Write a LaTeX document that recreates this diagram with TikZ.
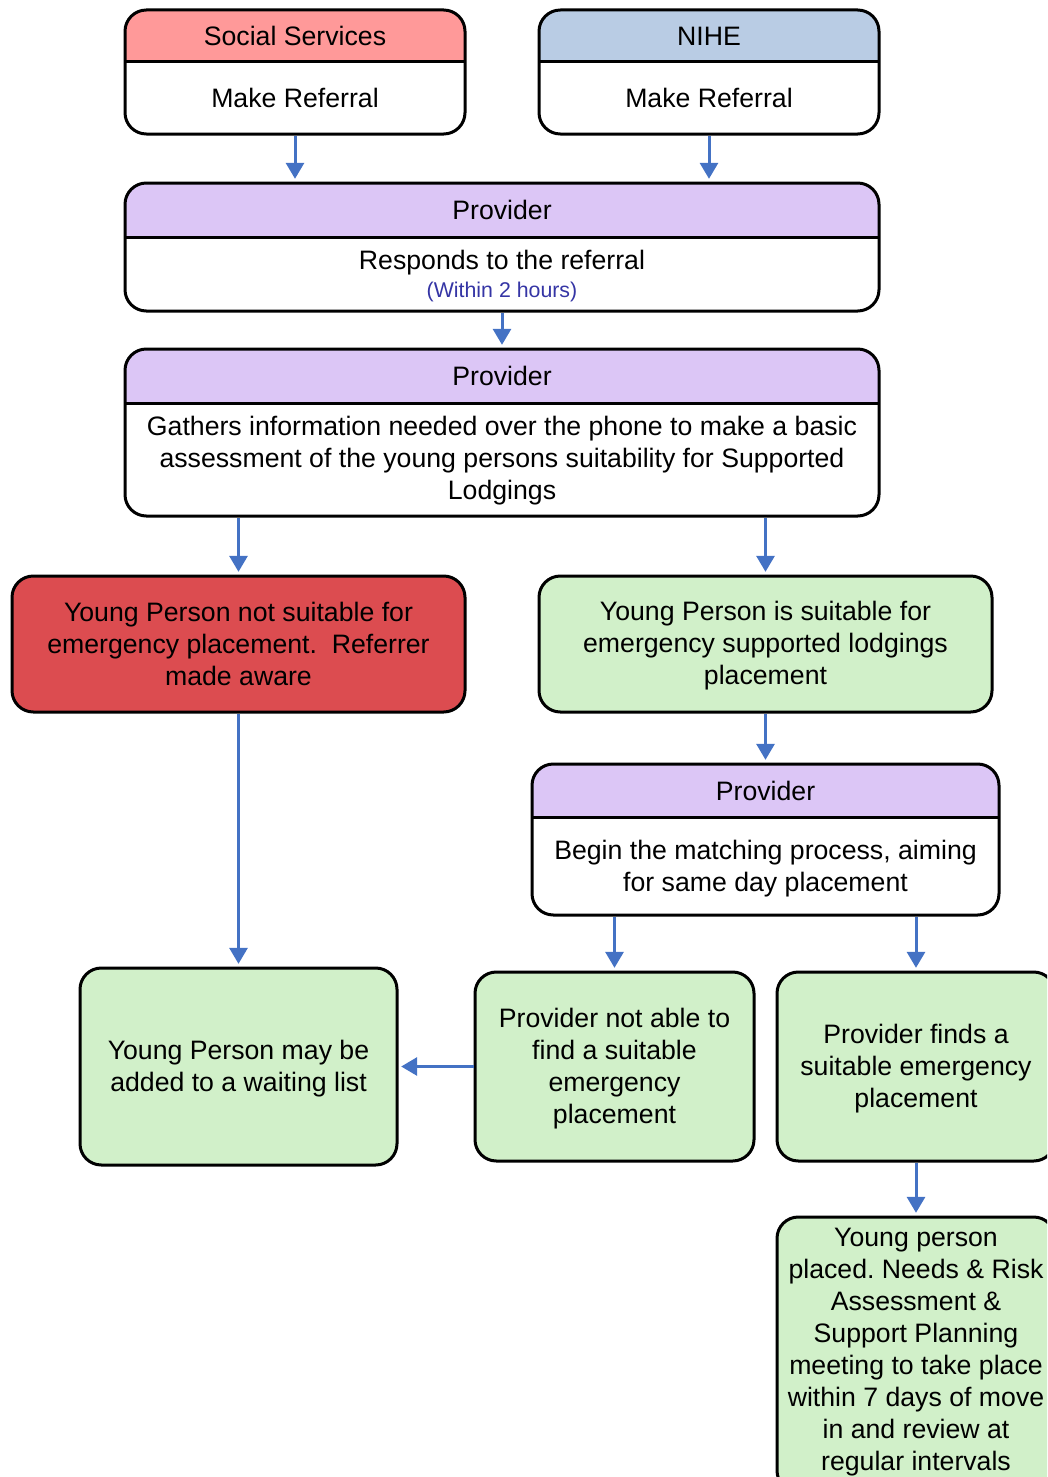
\documentclass[tikz,border=0pt]{standalone}
\usepackage{fontspec}
\setmainfont{Liberation Sans}
\usetikzlibrary{fit,arrows.meta}
\definecolor{ssred}{HTML}{FF9999}
\definecolor{nihe}{HTML}{B9CCE4}
\definecolor{prov}{HTML}{DCC6F6}
\definecolor{redbox}{HTML}{DC4C50}
\definecolor{grn}{HTML}{D1F0C9}
\definecolor{arrblue}{HTML}{4472C4}
\definecolor{txtblue}{HTML}{3535A5}
\frenchspacing
\tikzset{
  box/.style={draw, line width=2.25pt, rounded corners=16pt, inner sep=0pt},
  arr/.style={draw=arrblue, line width=2.25pt, -{Triangle[width=13.5pt,length=12pt]}, shorten >=2pt},
  txt/.style={font=\fontsize{20}{24}\selectfont, align=center, inner sep=0pt},
  small/.style={font=\fontsize{16}{19}\selectfont, text=txtblue, inner sep=0pt},
}
\newcommand\headbox[7]{%
  \fill[white, rounded corners=16pt] (#2,#3) rectangle (#4,#5);
  \begin{scope}
    \clip (#2,#3) rectangle (#4,#6);
    \fill[#7, rounded corners=16pt] (#2,#3) rectangle (#4,#5);
  \end{scope}
  \draw[line width=2.25pt] (#2,#6) -- (#4,#6);
  \node[box, fit={(#2,#3)(#4,#5)}] (#1) {};
}
\newcommand\plainbox[6]{%
  \node[box, fill=#6, fit={(#2,#3)(#4,#5)}] (#1) {};
}
\begin{document}
\begin{tikzpicture}[x=0.75pt, y=-0.75pt]
\path[use as bounding box] (0,0) rectangle (1047,1477);
\clip (0,0) rectangle (1047,1477);

% top boxes
\headbox{ss}{125}{10}{465}{134}{62}{ssred}
\node[txt] (ssh) at (295,36) {Social Services};
\node[txt] (ssb) at (295,98) {Make Referral};

\headbox{nh}{539}{10}{879}{134}{62}{nihe}
\node[txt] (nhh) at (709,36) {NIHE};
\node[txt] (nhb) at (709,98) {Make Referral};

% provider 1
\headbox{pa}{125}{183}{879}{311}{237}{prov}
\node[txt] (pah) at (502,210) {Provider};
\node[txt] (pab) at (502,263) {Responds to the referral};
\node[small] (pac) at (502,292) {(Within 2 hours)};

% provider 2
\headbox{pb}{125}{349}{879}{516}{403}{prov}
\node[txt] (pbh) at (502,376) {Provider};
\node[txt] (pbb) at (502,461) {Gathers information needed over the phone to make a basic\\assessment of the young persons suitability for Supported\\Lodgings};

% red / green
\plainbox{rd}{12}{576}{465}{712}{redbox}
\node[txt] (rdt) at (238.5,644) {Young Person not suitable for\\emergency placement.\ \ Referrer\\made aware};
\plainbox{gr}{539}{576}{992}{712}{grn}
\node[txt] (grt) at (765.5,646) {Young Person is suitable for\\emergency supported lodgings\\placement};

% provider 3
\headbox{pc}{532}{764}{999}{915}{817}{prov}
\node[txt] (pch) at (765.5,791) {Provider};
\node[txt] (pcb) at (765.5,869) {Begin the matching process, aiming\\for same day placement};

% bottom boxes
\plainbox{wt}{80}{968}{397}{1165}{grn}
\node[txt] (wtt) at (238.5,1069) {Young Person may be\\added to a waiting list};
\plainbox{na}{475}{972}{754}{1161}{grn}
\node[txt] (nat) at (614.5,1069) {Provider not able to\\find a suitable\\emergency\\placement};
\plainbox{fd}{777}{972}{1055}{1161}{grn}
\node[txt] (fdt) at (916,1069) {Provider finds a\\suitable emergency\\placement};
\plainbox{ls}{777}{1217}{1055}{1492}{grn}
\node[txt] (lst) at (916,1352) {Young person\\placed. Needs \& Risk\\Assessment \&\\Support Planning\\meeting to take place\\within 7 days of move\\in and review at\\regular intervals};

% connectors
\draw[arr] (ss.south) -- (ss.south |- pa.north);
\draw[arr] (nh.south) -- (nh.south |- pa.north);
\draw[arr] (pa.south) -- (pb.north);
\draw[arr] (pb.south -| rd.north) -- (rd.north);
\draw[arr] (pb.south -| gr.north) -- (gr.north);
\draw[arr] (gr.south) -- (pc.north);
\draw[arr] (rd.south) -- (wt.north);
\draw[arr] (pc.south -| na.north) -- (na.north);
\draw[arr] (pc.south -| fd.north) -- (fd.north);
\draw[arr] (na.west) -- (wt.east);
\draw[arr] (fd.south) -- (ls.north);
\end{tikzpicture}
\end{document}
